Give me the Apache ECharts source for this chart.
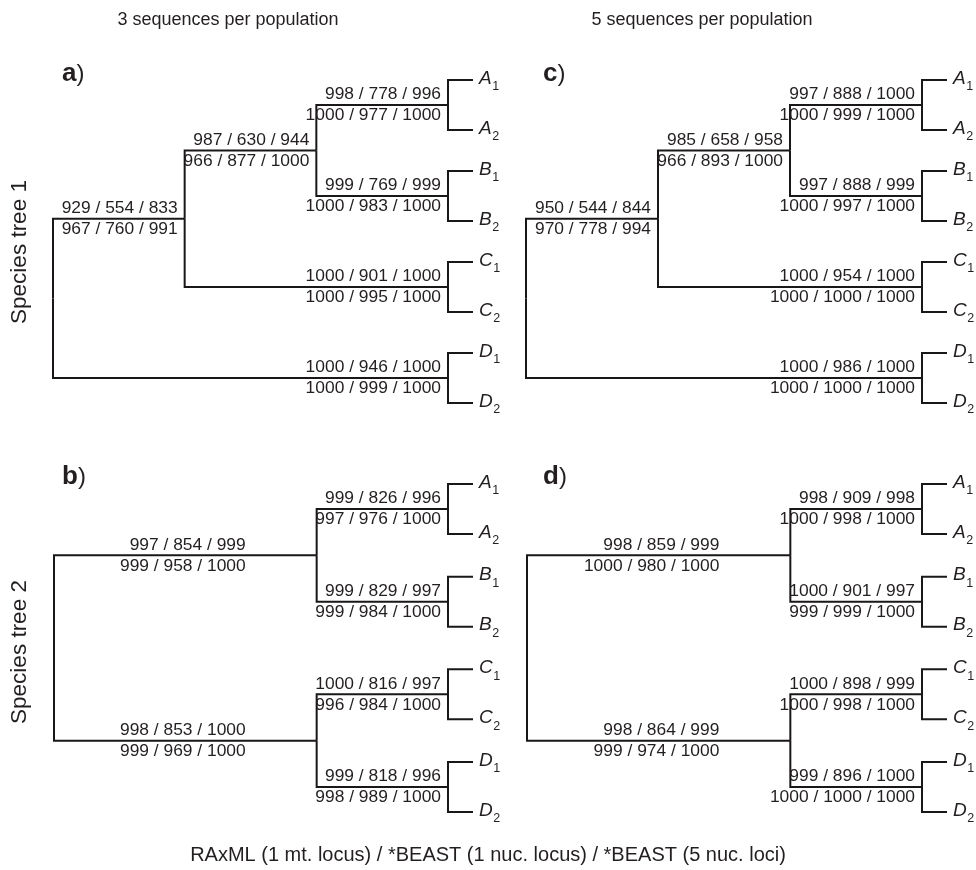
<!DOCTYPE html>
<html><head><meta charset="utf-8">
<script src="https://cdn.jsdelivr.net/npm/echarts@6/dist/echarts.min.js"></script>
<style>html,body{margin:0;padding:0;background:#fff}#c{width:976px;height:870px}</style>
</head><body><div id="c"></div><script>
// ---- Data ----
const columnTitles = ['3 sequences per population', '5 sequences per population'];
const rowTitles = ['Species tree 1', 'Species tree 2'];
const panelLetters = ['a', 'b', 'c', 'd'];
const footnote = 'RAxML (1 mt. locus) / *BEAST (1 nuc. locus) / *BEAST (5 nuc. loci)';
const cladeNames = ['A', 'B', 'C', 'D'];
const tipSuffix = ['1', '2'];

// Species tree 1: (((A,B),C),D)
const tree1Nodes = ['root', 'ABC', 'AB', 'A', 'B', 'C', 'D'];
const tree1Depth = [0, 1, 2, 3, 3, 3, 3];
const tree1Parent = [null, 'root', 'ABC', 'AB', 'AB', 'ABC', 'root'];
// Species tree 2: ((A,B),(C,D))
const tree2Nodes = ['root', 'AB', 'CD', 'A', 'B', 'C', 'D'];
const tree2Depth = [0, 2, 2, 3, 3, 3, 3];
const tree2Parent = [null, 'root', 'root', 'AB', 'AB', 'CD', 'CD'];

// support values for branches leading to nodes[1..6]
const aUpper = ['929 / 554 / 833', '987 / 630 / 944', '998 / 778 / 996', '999 / 769 / 999', '1000 / 901 / 1000', '1000 / 946 / 1000'];
const aLower = ['967 / 760 / 991', '966 / 877 / 1000', '1000 / 977 / 1000', '1000 / 983 / 1000', '1000 / 995 / 1000', '1000 / 999 / 1000'];
const cUpper = ['950 / 544 / 844', '985 / 658 / 958', '997 / 888 / 1000', '997 / 888 / 999', '1000 / 954 / 1000', '1000 / 986 / 1000'];
const cLower = ['970 / 778 / 994', '966 / 893 / 1000', '1000 / 999 / 1000', '1000 / 997 / 1000', '1000 / 1000 / 1000', '1000 / 1000 / 1000'];
const bUpper = ['997 / 854 / 999', '998 / 853 / 1000', '999 / 826 / 996', '999 / 829 / 997', '1000 / 816 / 997', '999 / 818 / 996'];
const bLower = ['999 / 958 / 1000', '999 / 969 / 1000', '997 / 976 / 1000', '999 / 984 / 1000', '996 / 984 / 1000', '998 / 989 / 1000'];
const dUpper = ['998 / 859 / 999', '998 / 864 / 999', '998 / 909 / 998', '1000 / 901 / 997', '1000 / 898 / 999', '999 / 896 / 1000'];
const dLower = ['1000 / 980 / 1000', '999 / 974 / 1000', '1000 / 998 / 1000', '999 / 999 / 1000', '1000 / 998 / 1000', '1000 / 1000 / 1000'];

// ---- Build branches ----
function buildBranches(nodes, depth, parent) {
  const row = {};
  cladeNames.forEach((n, i) => { row[n] = i; });
  const order = nodes.map((n, i) => i).sort((a, b) => depth[b] - depth[a]);
  order.forEach(i => {
    const n = nodes[i];
    if (row[n] === undefined) {
      const kids = nodes.filter((m, j) => parent[j] === n).map(m => row[m]);
      row[n] = kids.reduce((s, v) => s + v, 0) / kids.length;
    }
  });
  const out = [];
  nodes.forEach((n, i) => {
    if (parent[i] === null) return;
    const pi = nodes.indexOf(parent[i]);
    const tipClade = cladeNames.indexOf(n);
    out.push([depth[pi], row[parent[i]], depth[i], row[n], tipClade]);
  });
  return out;
}
const tree1Branches = buildBranches(tree1Nodes, tree1Depth, tree1Parent);
const tree2Branches = buildBranches(tree2Nodes, tree2Depth, tree2Parent);

// ---- Style ----
const INK = '#231f20';
const FONT = '"Liberation Sans", Arial, Helvetica, sans-serif';
const mctx = document.createElement('canvas').getContext('2d');
function textW(t, f) { mctx.font = f; return mctx.measureText(t).width; }

function makeRender(upper, lower) {
  return function (params, api) {
    const p = api.coord([api.value(0), api.value(1)]);
    const c = api.coord([api.value(2), api.value(3)]);
    const span = api.value(2) - api.value(0);
    const tipClade = api.value(4);
    const i = params.dataIndex;
    const lineStyle = { stroke: '#1a1718', lineWidth: 2, fill: null, lineJoin: 'miter', lineCap: 'butt' };
    const children = [{
      type: 'polyline',
      shape: { points: [[p[0], p[1]], [p[0], c[1]], [c[0], c[1]]] },
      style: lineStyle
    }];
    const gap = (tipClade < 0 && span >= 2 && api.value(0) === 0 && api.value(2) === 2) ? 71 : 7;
    const lblFont = '17.4px ' + FONT;
    children.push({ type: 'text', x: c[0] - gap, y: c[1] - 10.5,
      style: { text: upper[i], font: lblFont, fill: INK, align: 'right', verticalAlign: 'middle' } });
    children.push({ type: 'text', x: c[0] - gap, y: c[1] + 10.5,
      style: { text: lower[i], font: lblFont, fill: INK, align: 'right', verticalAlign: 'middle' } });
    if (tipClade >= 0) {
      const h = 25, stub = 25;
      children.push({ type: 'polyline',
        shape: { points: [[c[0] + stub, c[1] - h], [c[0], c[1] - h], [c[0], c[1] + h], [c[0] + stub, c[1] + h]] },
        style: lineStyle });
      [-h, h].forEach((dy, k) => {
        const tx = c[0] + stub + 6;
        const nf = 'italic 19px ' + FONT;
        const w = textW(cladeNames[tipClade], nf);
        children.push({ type: 'text', x: tx, y: c[1] + dy - 1.5,
          style: { text: cladeNames[tipClade], font: nf, fill: INK, align: 'left', verticalAlign: 'middle' } });
        children.push({ type: 'text', x: tx + w + 0.5, y: c[1] + dy + 7,
          style: { text: tipSuffix[k], font: '12.5px ' + FONT, fill: INK, align: 'left', verticalAlign: 'middle' } });
      });
    }
    return { type: 'group', children };
  };
}

const grids = [
  { left: 53, top: 105, width: 395, height: 273 },   // a
  { left: 54, top: 509, width: 394, height: 278 },   // b
  { left: 526, top: 105, width: 396, height: 273 },  // c
  { left: 527, top: 509, width: 395, height: 278 }   // d
];
const panelData = [
  [tree1Branches, aUpper, aLower],
  [tree2Branches, bUpper, bLower],
  [tree1Branches, cUpper, cLower],
  [tree2Branches, dUpper, dLower]
];

const option = {
  animation: false,
  backgroundColor: '#fff',
  grid: grids,
  xAxis: grids.map((g, i) => ({ type: 'value', gridIndex: i, min: 0, max: 3, show: false })),
  yAxis: grids.map((g, i) => ({ type: 'value', gridIndex: i, min: 0, max: 3, inverse: true, show: false })),
  series: panelData.map((pd, i) => ({
    type: 'custom', xAxisIndex: i, yAxisIndex: i, clip: false, silent: true,
    renderItem: makeRender(pd[1], pd[2]),
    data: pd[0]
  })),
  graphic: [
    { type: 'text', x: 228, y: 20, style: { text: columnTitles[0], font: '18px ' + FONT, fill: INK, align: 'center', verticalAlign: 'middle' } },
    { type: 'text', x: 702, y: 20, style: { text: columnTitles[1], font: '18px ' + FONT, fill: INK, align: 'center', verticalAlign: 'middle' } },
    { type: 'text', x: 20, y: 252, rotation: Math.PI / 2, style: { text: rowTitles[0], font: '22.5px ' + FONT, fill: INK, align: 'center', verticalAlign: 'middle' } },
    { type: 'text', x: 20, y: 652, rotation: Math.PI / 2, style: { text: rowTitles[1], font: '22.5px ' + FONT, fill: INK, align: 'center', verticalAlign: 'middle' } },
    { type: 'text', x: 488, y: 855, style: { text: footnote, font: '20px ' + FONT, fill: INK, align: 'center', verticalAlign: 'middle' } }
  ].concat([[62, 74], [62, 477], [543, 74], [543, 477]].map((pos, i) => ({
    type: 'text', x: pos[0], y: pos[1],
    style: {
      text: '{b|' + panelLetters[i] + '}{n|)}', align: 'left', verticalAlign: 'middle',
      rich: {
        b: { font: 'bold 26px ' + FONT, fill: INK },
        n: { font: '24px ' + FONT, fill: INK }
      }
    }
  })))
};
const chart = echarts.init(document.getElementById('c'));
chart.setOption(option);
</script></body></html>
